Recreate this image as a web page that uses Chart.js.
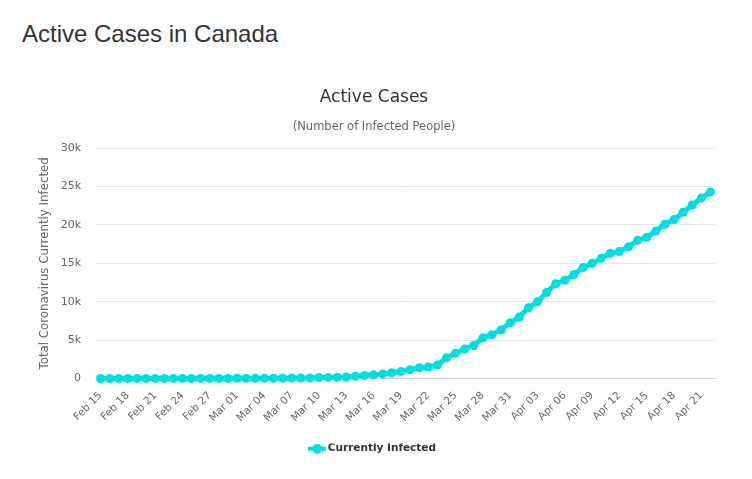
<!DOCTYPE html>
<html>
<head>
<meta charset="utf-8">
<title>Active Cases in Canada</title>
<script src="https://cdn.jsdelivr.net/npm/chart.js@4"></script>
<style>
  html, body { margin: 0; padding: 0; background: #fff; overflow: hidden; }
  #wrap { position: relative; width: 752px; height: 479px; }
  h1 { position: absolute; left: 22px; top: 20px; margin: 0; font: normal 24px "Liberation Sans", Arial, sans-serif; color: #333; }
  canvas { position: absolute; left: 0; top: 0; }
</style>
</head>
<body>
<div id="wrap">
  <h1>Active Cases in Canada</h1>
  <canvas id="chart" width="752" height="479"></canvas>
</div>
<script>
// --- data ---
const categories = [
  'Feb 15','Feb 16','Feb 17','Feb 18','Feb 19','Feb 20','Feb 21','Feb 22','Feb 23','Feb 24',
  'Feb 25','Feb 26','Feb 27','Feb 28','Feb 29','Mar 01','Mar 02','Mar 03','Mar 04','Mar 05',
  'Mar 06','Mar 07','Mar 08','Mar 09','Mar 10','Mar 11','Mar 12','Mar 13','Mar 14','Mar 15',
  'Mar 16','Mar 17','Mar 18','Mar 19','Mar 20','Mar 21','Mar 22','Mar 23','Mar 24','Mar 25',
  'Mar 26','Mar 27','Mar 28','Mar 29','Mar 30','Mar 31','Apr 01','Apr 02','Apr 03','Apr 04',
  'Apr 05','Apr 06','Apr 07','Apr 08','Apr 09','Apr 10','Apr 11','Apr 12','Apr 13','Apr 14',
  'Apr 15','Apr 16','Apr 17','Apr 18','Apr 19','Apr 20','Apr 21','Apr 22'
];
const infected = [
  7, 7, 7, 8, 8, 8, 8, 9, 9, 10,
  10, 11, 12, 13, 14, 20, 24, 27, 30, 33,
  45, 52, 58, 65, 130, 140, 165, 190, 300, 400,
  480, 600, 750, 900, 1150, 1400, 1500, 1750, 2700, 3300,
  3850, 4300, 5300, 5700, 6350, 7250, 8000, 9200, 10000, 11200,
  12350, 12800, 13550, 14450, 15000, 15650, 16300, 16550, 17150, 18000,
  18400, 19200, 20100, 20700, 21650, 22600, 23500, 24300
];
const yTicks = [0, 5000, 10000, 15000, 20000, 25000, 30000];
const yTickLabels = ['0', '5k', '10k', '15k', '20k', '25k', '30k'];
const seriesName = 'Currently Infected';
const lineColor = '#00dfdf';

// legend key: short line with a dot on it
const legendKey = document.createElement('canvas');
legendKey.width = 18;
legendKey.height = 10;
const k = legendKey.getContext('2d');
k.fillStyle = lineColor;
k.fillRect(0, 3, 18, 4);
k.beginPath();
k.arc(9, 5, 5, 0, Math.PI * 2);
k.fill();

new Chart(document.getElementById('chart'), {
  type: 'line',
  data: {
    labels: categories,
    datasets: [{
      label: seriesName,
      data: infected,
      borderColor: lineColor,
      backgroundColor: lineColor,
      borderWidth: 5,
      pointRadius: 4.5,
      pointBorderWidth: 0,
      pointHoverRadius: 5,
      pointStyle: 'circle',
      tension: 0,
      clip: false
    }]
  },
  options: {
    responsive: false,
    animation: false,
    layout: { padding: { top: 87, left: 33, right: 37, bottom: 15 } },
    plugins: {
      title: {
        display: true,
        text: 'Active Cases',
        color: '#333',
        font: { family: 'DejaVu Sans', size: 17, weight: 'normal' },
        padding: { top: 0, bottom: 13 }
      },
      subtitle: {
        display: true,
        text: '(Number of Infected People)',
        color: '#666',
        font: { family: 'DejaVu Sans', size: 11.5, weight: 'normal' },
        padding: { top: 0, bottom: 14 }
      },
      legend: {
        position: 'bottom',
        labels: {
          usePointStyle: true,
          pointStyle: legendKey,
          color: '#333',
          font: { family: 'DejaVu Sans', size: 10.5, weight: 'bold' },
          padding: 0
        }
      },
      tooltip: { enabled: false }
    },
    scales: {
      x: {
        offset: true,
        grid: { display: false, drawTicks: false },
        border: { display: true, color: '#ccd6eb', width: 1 },
        ticks: {
          autoSkip: false,
          maxRotation: 45,
          minRotation: 45,
          padding: 11,
          color: '#666',
          font: { family: 'DejaVu Sans', size: 10.5 },
          callback(v, i) { return i % 3 === 0 ? categories[i] : ''; }
        },
        afterFit(s) { s.height = 65; }
      },
      y: {
        min: 0,
        max: 30000,
        afterBuildTicks(s) { s.ticks = yTicks.map(v => ({ value: v })); },
        grid: { color: '#e6e6e6', drawTicks: false },
        border: { display: false },
        ticks: {
          padding: 15,
          color: '#666',
          font: { family: 'DejaVu Sans', size: 11 },
          callback(v) { return yTickLabels[yTicks.indexOf(v)]; }
        },
        title: {
          display: true,
          text: 'Total Coronavirus Currently Infected',
          color: '#666',
          font: { family: 'DejaVu Sans', size: 11.8, weight: 'normal' },
          padding: { top: 5, bottom: 0 }
        },
        afterFit(s) { s.width = 63; }
      }
    }
  }
});
</script>
</body>
</html>
